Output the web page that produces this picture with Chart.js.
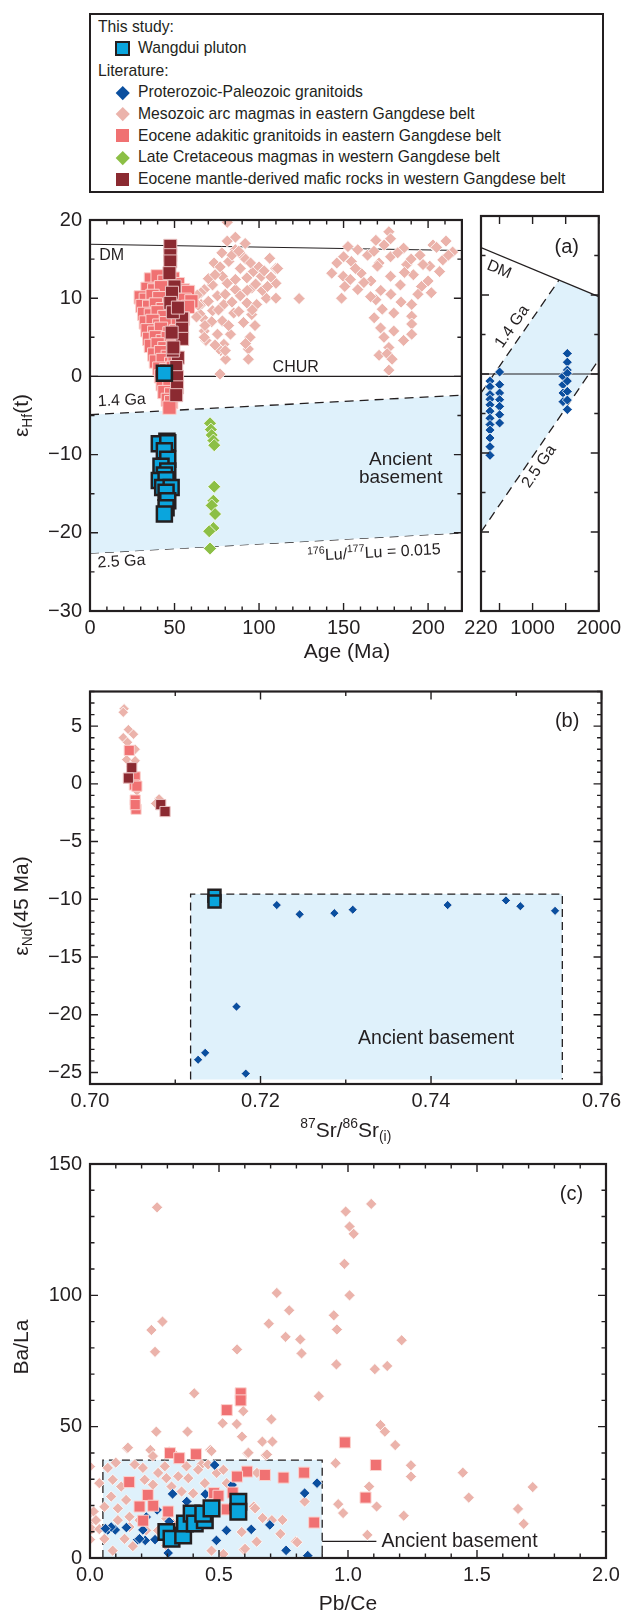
<!DOCTYPE html>
<html>
<head>
<meta charset="utf-8">
<script src="https://cdn.jsdelivr.net/npm/chart.js@4"></script>
<style>
html, body { margin: 0; padding: 0; background: #fff; }
body { width: 626px; height: 1613px; position: relative; overflow: hidden;
  font-family: Arial, "Liberation Sans", sans-serif; color: #231f20; }
canvas { position: absolute; }
#legend { position: absolute; left: 89px; top: 13px; width: 511px; height: 176px; border: 2px solid #231f20; }
.row { position: absolute; height: 22px; line-height: 22px; font-size: 15.7px; white-space: nowrap; }
.mk { position: absolute; box-sizing: border-box; }
</style>
</head>
<body>
<div id="legend"></div>
<div class="row" style="left:98px;top:15.7px">This study:</div>
<div class="mk" style="left:115px;top:41px;width:15px;height:15px;background:#0aa5dd;border:2px solid #231f20"></div>
<div class="row" style="left:138px;top:37.3px">Wangdui pluton</div>
<div class="row" style="left:98px;top:59.7px">Literature:</div>
<div class="mk" style="left:118px;top:87.5px;width:9.5px;height:9.5px;background:#0b4f9f;transform:rotate(45deg)"></div>
<div class="row" style="left:138px;top:81.3px">Proterozoic-Paleozoic granitoids</div>
<div class="mk" style="left:118px;top:109.2px;width:9.5px;height:9.5px;background:#ebb3ab;transform:rotate(45deg)"></div>
<div class="row" style="left:138px;top:103px">Mesozoic arc magmas in eastern Gangdese belt</div>
<div class="mk" style="left:116px;top:129.2px;width:13px;height:13px;background:#f07172"></div>
<div class="row" style="left:138px;top:124.7px">Eocene adakitic granitoids in eastern Gangdese belt</div>
<div class="mk" style="left:118px;top:152.5px;width:9.5px;height:9.5px;background:#8cbf45;transform:rotate(45deg)"></div>
<div class="row" style="left:138px;top:146.3px">Late Cretaceous magmas in western Gangdese belt</div>
<div class="mk" style="left:116px;top:172.8px;width:13px;height:13px;background:#8b2a31"></div>
<div class="row" style="left:138px;top:168.3px">Eocene mantle-derived mafic rocks in western Gangdese belt</div>

<canvas id="aL" width="475" height="470" style="left:0;top:200px"></canvas>
<canvas id="aR" width="171" height="470" style="left:455px;top:200px"></canvas>
<canvas id="b" width="626" height="480" style="left:0;top:670px"></canvas>
<canvas id="c" width="626" height="473" style="left:0;top:1140px"></canvas>

<script>
const INK = '#231f20';
const FONT = 'Arial, "Liberation Sans", sans-serif';
const PINK = '#ebb3ab', SALMON = '#f07172', DARKRED = '#8b2a31', GREEN = '#8cbf45',
      BLUE = '#0b4f9f', WANGDUI = '#0aa5dd', BASEMENT = '#dff1fb';
Chart.defaults.font.family = FONT;
Chart.defaults.color = INK;

// ---------- (a) Hf isotopes vs age ----------
const hfWangdui = [[44,0.4],[45.5,-8.3],[41,-8.6],[46,-8.5],[44,-9.5],[46,-10.6],[42,-11.5],[46,-12.1],
  [44,-12.6],[41,-13.3],[45,-13.2],[43,-14.2],[48,-14.2],[45,-14.8],[46,-15.9],[45,-16.8],[44,-17.6]];
const hfMantle = [[47.5,16.7],[47.5,15.5],[47.5,14.7],[47,13.2],[50,11.5],[48.5,10.7],[47.5,9.4],
  [54.5,7.4],[54.5,6.1],[54.5,4.8],[52,2.4],[49,3.3],[51,1.2],[51.5,-0.1],[51.5,-1.4],[51,-2.4],
  [48.3,5.6],[49.3,3.7],[49,8.2],[52,8.8]];
const hfAdakitic = [[36,12.4],[40,12.8],[44,12.1],[49,12.5],[52,11.8],[34,11.2],[38,11.0],[42,11.4],
  [55,11.0],[58,10.8],[30,10.1],[33,9.8],[37,10.3],[41,10.0],[50,10.4],[56,9.8],[60,9.6],[31,9.0],
  [35,8.9],[39,9.2],[43,8.6],[53,8.8],[58,8.9],[32,8.0],[36,7.8],[40,8.2],[44,7.6],[50,7.9],[55,7.4],
  [33,6.9],[37,7.1],[41,6.5],[45,6.8],[52,6.6],[34,5.9],[38,5.6],[42,6.1],[47,5.5],[51,5.8],[35,4.8],
  [39,5.0],[43,4.5],[46,4.9],[36,3.9],[40,4.1],[44,3.6],[49,3.8],[38,2.8],[42,3.1],[46,2.5],[39,1.9],
  [43,2.1],[48,1.6],[50,2.3],[41,1.0],[45,0.8],[49,1.1],[42,0.0],[46,-0.2],[50,0.2],[43,-1.0],[47,-1.2],
  [44,-2.0],[48,-2.3],[46,-3.0],[48,-3.3],[47,-4.0]];
const hfLateCret = [[71,-6],[71.5,-6.8],[72,-7.5],[73,-8.2],[73.5,-8.8],[73.5,-14.1],[73,-15.9],
  [72,-16.5],[74,-17.6],[73,-19.4],[70.5,-19.8],[71,-22]];
const hfMesozoic = [[81.2,19.7],[86,17.8],[81.2,17.3],[91.8,17],[86,16.2],[89.9,15.5],[73.4,14.5],
  [82.1,14.7],[106.3,15.1],[110,13.8],[88.9,13.8],[96.6,13.4],[101.4,12.8],[78.3,12.8],[72.5,11.7],
  [81.2,11.9],[92.8,12.6],[110,11.9],[67.6,11.1],[86,11.1],[95.7,11.3],[75.4,10.3],[88.9,10.3],
  [104.3,10],[110,10],[65.7,9.2],[79.2,9.2],[92.8,9.4],[98.6,9.2],[72.5,8.4],[85,8.1],[95.7,7.9],
  [66.7,7.5],[78.3,7.1],[90.8,6.9],[97.6,6.5],[67.6,5.8],[75.4,5.4],[83.1,5.4],[94.7,5],[68.6,4.6],
  [79.2,4.1],[93.7,3.5],[77.3,3.3],[80.2,2.2],[93.7,2.2],[76.9,0.3],[65.7,10.7],[67.6,5],[76.3,3.5],
  [111,13.8],[70,12.5],[74,13],[77,14],[84,15.5],[88,16],[92,15],[95,14.5],[100,14],[103,13.5],
  [107,12.7],[98,11.8],[102,11],[93,11],[80,10.5],[84,9.5],[70,9.6],[76,8.5],[88,8.3],[82,6.5],
  [72,7],[65,8],[68,6.5],[96,8.5],[92,4.2],[74,4],[80,3.3],[86,12.4],[78,15.8],[105,11.5],
  [63.5,10.4],[64,9.1],[63,7.6],[123.7,9.95],
  [176.8,18.5],[177.8,17.6],[169.1,17.4],[210.6,17.3],[152.6,16.6],[158.4,16.2],[185.5,16.4],
  [202.9,16.8],[214.5,15.9],[164.2,15.5],[177.8,15.3],[195.2,15.5],[208.7,14.9],[154.6,14.7],
  [171,14.5],[187.4,14.3],[201,14.1],[143,13.2],[149.8,12.8],[160.4,13.2],[177.8,12.8],[191.3,13],
  [206.8,13.4],[150.7,11.5],[166.2,12.2],[183.6,11.7],[196.1,11.5],[201.9,10.7],[148.8,10],
  [158.4,11.1],[169.1,9.8],[190.3,9.2],[172.9,8.6],[179.7,8.1],[190.3,7.7],[168.1,7.5],[171.9,6.2],
  [179.7,5.8],[190.3,6.7],[190.3,5.4],[173.9,5],[185.5,4.6],[176.8,3.7],[171,2.7],[175.8,2.9],
  [178.7,2.2],[176.8,0.8],[146,14.5],[157,13.8],[168,16],[174,16.8],[182,15.8],[190,15],[197,14.3],
  [212,15.5],[162,12],[172,11],[186,13.3],[200,12.2],[178,10.5],[154,12.4],[205,16.5],[166,10.2],
  [184,9.5],[194,10.5],[170,14.1],[150,15.3]];
const hfProterozoic = [[356,-0.9],[356,-1.6],[356,-2.6],[356,-3.2],[356,-3.9],[356,-4.7],[356,-5.6],
  [356,-6.4],[356,-7.1],[356,-8.1],[356,-9.2],[356,-10.3],[502,0.25],[502,-1.35],[502,-2.4],
  [502,-3.25],[502,-4.1],[502,-5.15],[502,-6.2],[1460,-0.3],[1460,-1.35],[1460,-2.4],[1460,-3.5],
  [1525,2.6],[1525,1.5],[1525,0.5],[1525,0.1],[1525,-0.9],[1525,-2.2],[1525,-3.3],[1525,-4.5]];
// reference curves
const hfDM = [[0,16.9],[220,16.1]];
const hfCHUR = [[0,0],[220,0]];
const hf14Ga = [[0,-4.9],[220,-2.4]];
const hf25Ga = [[0,-22.6],[220,-20]];
const hfDMOld = [[220,16.0],[2000,9.8]];
const hfCHUROld = [[220,0],[2000,0]];
const hf14GaOld = [[220,-2.4],[1400,11.9]];
const hf25GaOld = [[220,-20],[1400,-5.55],[2000,1.8]];
const hfBasementTopOld = [[220,-2.4],[1400,11.9],[2000,9.8]];
const ageTicks = [0,50,100,150,200];
const ageTicksOld = [220,500,1000,1500,2000];
const hfTicks = [-30,-20,-10,0,10,20];

// ---------- (b) Nd vs Sr ----------
const ndWangdui = [[0.7146,-9.7],[0.7146,-10.2]];
const ndMantle = [[0.7049,1.4],[0.7045,0.5],[0.7083,-1.8],[0.7088,-2.4]];
const ndAdakitic = [[0.7046,2.9],[0.7053,0.6],[0.7052,-0.1],[0.7055,-0.2],[0.7053,-1.4],[0.7054,-2.2],[0.7053,-1.8]];
const ndMesozoic = [[0.7040,6.5],[0.7039,6.2],[0.7045,4.7],[0.7039,4.0],[0.7051,4.3],[0.7044,3.6],
  [0.7053,3.0],[0.7043,2.1],[0.7053,2.0],[0.7048,1.5],[0.7081,-1.3],[0.7077,-1.7],[0.7049,0.3],[0.7055,-0.6]];
const ndProterozoic = [[0.72191,-10.5],[0.72459,-11.3],[0.72866,-11.2],[0.73082,-10.9],[0.74195,-10.5],
  [0.74879,-10.1],[0.75048,-10.6],[0.75455,-11.0],[0.71718,-19.3],[0.71268,-23.9],[0.71351,-23.3],[0.71827,-25.1]];
const ndBoxX = [0.7118, 0.7554];
const ndBoxY = [-25.6, -9.55];
const srTicks = [0.70,0.72,0.74,0.76];
const ndTicks = [-25,-20,-15,-10,-5,0,5];

// ---------- (c) Ba/La vs Pb/Ce ----------
const baWangdui = [[0.296,9.9],[0.316,7.3],[0.361,8.6],[0.368,13.1],[0.394,16.9],[0.406,13.1],
  [0.445,14.4],[0.439,16.9],[0.471,18.9],[0.575,21.4],[0.575,17.6]];
const baAdakitic = [[0.584,62.7],[0.584,60],[0.530,56.3],[0.988,44],[1.108,35.4],[1.068,23],[0.869,13.5],
  [0.830,32.5],[0.750,30.6],[0.678,31.6],[0.609,32.9],[0.570,31],[0.310,39.9],[0.346,38],[0.411,39.5],
  [0.152,28.9],[0.224,24],[0.245,19.9],[0.192,19.6],[0.206,14.2],[0.303,17.7],[0.481,24.7],[0.498,23.7],
  [0.553,24.9],[0.530,18.5]];
const baProterozoic = [[0.483,35.4],[0.320,24.4],[0.447,24.3],[0.375,21.5],[0.551,27.8],[0.880,28.5],
  [0.832,24.7],[0.069,10.7],[0.098,10.7],[0.141,11.6],[0.205,10.7],[0.185,7],[0.214,6.7],[0.252,7],
  [0.303,1.9],[0.307,13.9],[0.490,6.7],[0.529,10.5],[0.625,10.9],[0.697,12.6],[0.760,2.9],[0.844,0.9],
  [0.260,18.3],[0.192,7.3],[0.082,11.8],[0.218,15.6],[0.06,11.2]];
const baMesozoic = [[0.26,133.5],[0.991,131.9],[1.09,134.8],[1.006,126.2],[1.022,123.4],[0.986,112],
  [0.724,100.9],[1.006,100],[0.772,94.3],[0.281,90],[0.693,89.2],[0.945,92.4],[0.238,86.8],[0.957,87],
  [0.758,84.2],[0.815,83.2],[1.208,82.9],[0.252,78.5],[0.570,79.4],[0.820,77.9],[0.955,73.7],[1.104,71.9],
  [1.152,73.1],[0.404,62.7],[0.887,61.6],[0.594,55.9],[0.514,51.3],[0.569,51],[0.703,52.8],[1.126,50.6],
  [1.143,48.1],[0.257,48.1],[0.378,48.1],[0.589,46.2],[0.668,44.3],[0.707,44.3],[1.183,43],[0.144,41.8],
  [0.234,41.1],[0.307,40.5],[0.466,41.1],[0.610,39.9],[0.681,39.2],[0.952,36.1],[1.244,35.3],[1.244,31],
  [1.445,32.5],[1.468,23],[1.716,27],[1.659,18.7],[1.681,13],[1.216,16.1],[1.111,19.6],[1.082,27.2],
  [0.962,20.5],[0.981,17.1],[1.075,8.8],[0.798,6.3],[0.832,21.5],[0.669,15.2],[0.746,14.5],[0.646,6.2],
  [0.596,3.2],[0.635,19.6],[0,34.8],[0,17.1],[0.014,17.7],[0,13.5],[0.007,11],[0,7],[0.036,11],
  [0.069,34.3],[0.147,42],[0.173,35.6],[0.205,34.3],[0.244,38.8],[0.290,34.9],[0.329,39.4],[0.374,34.9],
  [0.432,35.6],[0.471,40.7],[0.614,40.1],[0.686,39.4],[0.647,32.4],[0.036,28.5],[0.088,29.8],[0.121,27.2],
  [0.140,22.1],[0.082,23.4],[0.108,18.9],[0.056,19.5],[0.023,14.4],[0.056,7.3],[0.108,14.4],[0.134,7.3],
  [0.088,2.8],[0.192,14.4],[0.212,29.8],[0.244,27.9],[0.264,32.4],[0.296,30.4],[0.316,27.2],[0.342,31.1],
  [0.355,25.3],[0.381,30.4],[0.400,24.6],[0.419,33.6],[0.445,28.5],[0.458,35.6],[0.491,32.4],[0.517,33.6],
  [0.530,28.5],[0.582,22.1],[0.640,18.9],[0.705,14.4],[0.803,6.0],[0.588,9.9],[0.296,15.0],[0.322,13.1],
  [0.264,10.5],[0.218,10.5],[0.153,11.8],[0.296,4.7],[0.471,2.8],[0.153,15.7],[0.374,15.7],[0.601,3.5],
  [0.517,1.5],[0.738,9.2],[0.166,4.5],[0.1,36.3]];
const pbBoxX = [0.05, 0.9];
const pbBoxY = [0, 37.3];
const pbLeader = [[0.9,6.3],[1.11,6.3]];
const pbTicks = [0,0.5,1,1.5,2];
const baTicks = [0,50,100,150];

// ---------- helpers ----------
const xy = arr => arr.map(([x, y]) => ({x, y}));

function marks(data, style, fill, border, bw, r, order) {
  return { data: xy(data), pointStyle: style, pointRadius: r, backgroundColor: fill,
    borderColor: border, borderWidth: bw, order };
}
function curve(data, extra) {
  return Object.assign({ type: 'line', data: xy(data), pointRadius: 0, borderColor: INK,
    borderWidth: 1.2, fill: false, tension: 0, order: 30 }, extra);
}
function boxSets(bx, by) {
  const [x0, x1] = bx, [y0, y1] = by;
  return [
    curve([[x0,y1],[x1,y1]], { fill: '+1', backgroundColor: BASEMENT, borderColor: 'rgba(0,0,0,0)', order: 40 }),
    curve([[x0,y0],[x1,y0]], { borderColor: 'rgba(0,0,0,0)', order: 41 }),
    curve([[x0,y0],[x0,y1],[x1,y1],[x1,y0]], { borderDash: [8,5], borderWidth: 1.3, order: 29 })
  ];
}

const minus = v => (v < 0 ? '\u2212' : '') + Math.abs(v);
function axis(min, max, ticks, size, horiz, fmt, show = true) {
  return {
    type: 'linear', min, max, display: show,
    grid: { display: false, drawTicks: false }, border: { display: false },
    ticks: { font: { size: 20 }, color: INK, padding: horiz ? 5 : 8, autoSkip: false, maxRotation: 0,
      callback: v => fmt(v) },
    afterBuildTicks: s => { s.ticks = ticks.map(v => ({ value: v })); },
    afterFit: s => { if (horiz) s.height = size; else s.width = size; }
  };
}

// inward ticks on all four sides and the frame
function frame(t) {
  return {
    id: 'frame',
    afterDatasetsDraw(chart) {
      const { ctx, chartArea: a } = chart;
      const sx = chart.scales.x, sy = chart.scales.y;
      ctx.save();
      ctx.strokeStyle = INK;
      ctx.lineWidth = 1.4;
      ctx.beginPath();
      const put = (scale, step, len, horiz) => {
        if (!step) return;
        for (let i = Math.ceil(scale.min / step - 1e-9); i * step <= scale.max + 1e-9; i++) {
          const p = scale.getPixelForValue(i * step);
          if (horiz) {
            ctx.moveTo(p, a.bottom); ctx.lineTo(p, a.bottom - len);
            ctx.moveTo(p, a.top); ctx.lineTo(p, a.top + len);
          } else {
            ctx.moveTo(a.left, p); ctx.lineTo(a.left + len, p);
            ctx.moveTo(a.right, p); ctx.lineTo(a.right - len, p);
          }
        }
      };
      put(sx, t.xMinor, 4.5, true); put(sx, t.xMajor, 8, true);
      put(sy, t.yMinor, 4.5, false); put(sy, t.yMajor, 8, false);
      ctx.stroke();
      ctx.lineWidth = 2.2;
      ctx.strokeRect(a.left, a.top, a.right - a.left, a.bottom - a.top);
      ctx.restore();
    }
  };
}

// text runs: [text] or [text,'sub'|'sup']
function rich(ctx, runs, x, y, size, rot = 0, align = 'center') {
  ctx.save();
  ctx.translate(x, y);
  ctx.rotate(rot * Math.PI / 180);
  ctx.fillStyle = INK;
  ctx.textBaseline = 'middle';
  ctx.textAlign = 'left';
  const parts = runs.map(([s, k]) => {
    const fs = k ? size * 0.66 : size;
    ctx.font = fs + 'px ' + FONT;
    return { s, k, fs, w: ctx.measureText(s).width };
  });
  const total = parts.reduce((t, p) => t + p.w, 0);
  let cx = align === 'left' ? 0 : -total / 2;
  for (const p of parts) {
    ctx.font = p.fs + 'px ' + FONT;
    const dy = p.k === 'sub' ? size * 0.3 : p.k === 'sup' ? -size * 0.32 : 0;
    ctx.fillText(p.s, cx, dy);
    cx += p.w;
  }
  ctx.restore();
}
function texts(fn) {
  return { id: 'texts', afterDraw(chart) {
    const P = (xv, yv) => [chart.scales.x.getPixelForValue(xv), chart.scales.y.getPixelForValue(yv)];
    const ang = (p, q) => { const a = P(...p), b = P(...q); return Math.atan2(b[1] - a[1], b[0] - a[0]) * 180 / Math.PI; };
    fn(chart.ctx, P, ang, chart.chartArea);
  } };
}

function makeChart(id, datasets, xs, ys, pad, plugins) {
  return new Chart(document.getElementById(id), {
    type: 'scatter',
    data: { datasets },
    options: {
      responsive: false, animation: false, devicePixelRatio: 1, events: [],
      layout: { padding: pad },
      plugins: { legend: { display: false }, tooltip: { enabled: false } },
      scales: { x: xs, y: ys }
    },
    plugins
  });
}

// ---------- (a) left: 0-220 Ma ----------
makeChart('aL', [
  marks(hfWangdui, 'rect', WANGDUI, INK, 2.5, 10.6, 1),
  marks(hfLateCret, 'rectRot', GREEN, '#ffffff', 0.8, 6.5, 2),
  marks(hfMantle, 'rect', DARKRED, '#e9c0c0', 1, 9.2, 3),
  marks(hfAdakitic, 'rect', SALMON, '#fbd3cf', 1, 9.4, 4),
  marks(hfMesozoic, 'rectRot', PINK, '#ffffff', 0.8, 6, 5),
  curve(hfDM), curve(hfCHUR),
  curve(hf14Ga, { fill: '+1', backgroundColor: BASEMENT, borderDash: [9,6], borderWidth: 1.3, order: 31 }),
  curve(hf25Ga, { borderDash: [9,6], borderWidth: 1.3, order: 32 })
],
  axis(0, 220, ageTicks, 59, true, v => String(v)),
  axis(-30, 20, hfTicks, 90, false, minus),
  { left: 0, top: 16, right: 6, bottom: 0 },
  [frame({ xMajor: 50, xMinor: 10, yMajor: 10, yMinor: 5 }),
   texts((c, P, ang, a) => {
     const t = ang(hf14Ga[0], hf14Ga[1]);
     rich(c, [['DM']], ...P(12.8, 15.4), 16);
     rich(c, [['CHUR']], ...P(121.7, 1.1), 16);
     rich(c, [['1.4 Ga']], ...P(18.8, -3.1), 16, t);
     rich(c, [['2.5 Ga']], ...P(18.6, -23.7), 16, t);
     rich(c, [['Ancient']], ...P(183.8, -10.6), 19);
     rich(c, [['basement']], ...P(183.8, -13.0), 19);
     rich(c, [['176', 'sup'], ['Lu/'], ['177', 'sup'], ['Lu = 0.015']], ...P(168, -22.6), 16, t);
     rich(c, [['Age (Ma)']], 347, a.bottom + 41, 21);
     rich(c, [['\u03b5'], ['Hf', 'sub'], ['(t)']], 22, (a.top + a.bottom) / 2, 21, -90);
   })]);

// ---------- (a) right: 220-2000 Ma ----------
makeChart('aR', [
  marks(hfProterozoic, 'rectRot', BLUE, '#ffffff', 0.8, 5, 1),
  curve(hfDMOld), curve(hfCHUROld),
  curve(hf14GaOld, { borderDash: [9,6], borderWidth: 1.3 }),
  curve(hfBasementTopOld, { fill: '+1', backgroundColor: BASEMENT, borderColor: 'rgba(0,0,0,0)', order: 40 }),
  curve(hf25GaOld, { borderDash: [9,6], borderWidth: 1.3, order: 32 })
],
  axis(220, 2000, ageTicksOld, 59, true, v => (v === 500 || v === 1500) ? '' : String(v)),
  axis(-30, 20, hfTicks, 0, false, minus, false),
  { left: 26, top: 16, right: 21, bottom: 0 },
  [frame({ xMajor: 500, yMajor: 10, yMinor: 5 }),
   texts((c, P, ang) => {
     rich(c, [['(a)']], ...P(1516, 16.05), 20);
     rich(c, [['DM']], ...P(494, 13.2), 16, ang(hfDMOld[0], hfDMOld[1]));
     rich(c, [['1.4 Ga']], ...P(691, 6.0), 16, ang(hf14GaOld[0], hf14GaOld[1]));
     rich(c, [['2.5 Ga']], ...P(1100, -11.7), 16, ang(hf25GaOld[0], hf25GaOld[2]));
   })]);

// ---------- (b) ----------
makeChart('b', [
  marks(ndWangdui, 'rect', WANGDUI, INK, 2.5, 8.5, 1),
  marks(ndProterozoic, 'rectRot', BLUE, '#ffffff', 0.8, 4.6, 2),
  marks(ndMantle, 'rect', DARKRED, '#e9c0c0', 1, 7.2, 3),
  marks(ndAdakitic, 'rect', SALMON, '#fbd3cf', 1, 7.2, 4),
  marks(ndMesozoic, 'rectRot', PINK, '#ffffff', 0.8, 5.2, 5),
  ...boxSets(ndBoxX, ndBoxY)
],
  axis(0.70, 0.76, srTicks, 66, true, v => v.toFixed(2)),
  axis(-26, 8, ndTicks, 90, false, minus),
  { left: 0, top: 21.5, right: 20, bottom: 0 },
  [frame({ xMajor: 0.02, xMinor: 0.01, yMajor: 5, yMinor: 1 }),
   texts((c, P, ang, a) => {
     rich(c, [['(b)']], ...P(0.75597, 5.41), 20);
     rich(c, [['Ancient basement']], ...P(0.7406, -22.07), 19.5);
     rich(c, [['87', 'sup'], ['Sr/'], ['86', 'sup'], ['Sr'], ['(i)', 'sub']], (a.left + a.right) / 2, a.bottom + 47, 21);
     rich(c, [['\u03b5'], ['Nd', 'sub'], ['(45 Ma)']], 22, 236, 21, -90);
   })]);

// ---------- (c) ----------
makeChart('c', [
  marks(baWangdui, 'rect', WANGDUI, INK, 2.5, 11, 1),
  marks(baAdakitic, 'rect', SALMON, '#fbd3cf', 1, 7.8, 2),
  marks(baProterozoic, 'rectRot', BLUE, '#ffffff', 0.8, 5.3, 3),
  marks(baMesozoic, 'rectRot', PINK, '#ffffff', 0.8, 5.6, 4),
  curve(pbLeader, { order: 20 }),
  ...boxSets(pbBoxX, pbBoxY)
],
  axis(0, 2, pbTicks, 55, true, v => v.toFixed(1)),
  axis(0, 150, baTicks, 90, false, v => String(v)),
  { left: 0, top: 24, right: 20, bottom: 0 },
  [frame({ xMajor: 0.5, xMinor: 0.1, yMajor: 50, yMinor: 10 }),
   texts((c, P, ang, a) => {
     rich(c, [['(c)']], ...P(1.866, 138.5), 20);
     rich(c, [['Ancient basement']], ...P(1.13, 6.3), 19.5, 0, 'left');
     rich(c, [['Pb/Ce']], (a.left + a.right) / 2, a.bottom + 46, 21);
     rich(c, [['Ba/La']], 22, 207, 21, -90);
   })]);
</script>
</body>
</html>
